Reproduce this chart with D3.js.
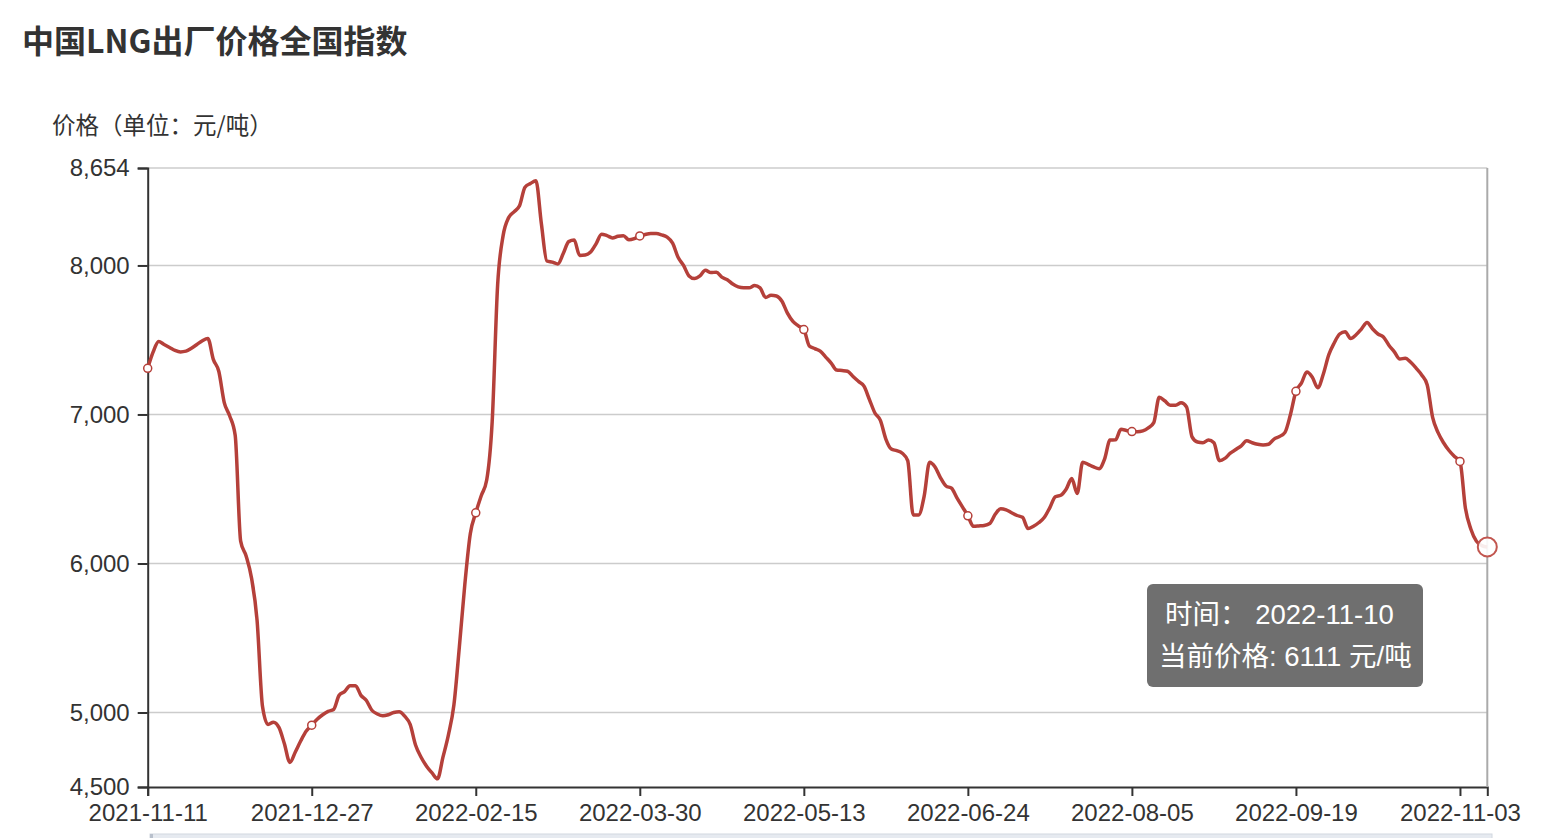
<!DOCTYPE html>
<html>
<head>
<meta charset="utf-8">
<script src="https://cdn.jsdelivr.net/npm/d3@7/dist/d3.min.js"></script>
<style>
  html, body { margin: 0; padding: 0; background: #fff; }
  svg { display: block; }
  text { font-family: "Liberation Sans", Arial, "Noto Sans CJK SC", sans-serif; }
</style>
</head>
<body>
<svg id="chart" width="1546" height="838"></svg>
<script>
// ---------------- data ----------------
const titleText = "中国LNG出厂价格全国指数";
const yAxisName = "价格（单位：元/吨）";
const xTickLabels = ["2021-11-11","2021-12-27","2022-02-15","2022-03-30","2022-05-13",
                     "2022-06-24","2022-08-05","2022-09-19","2022-11-03"];
const labelInterval = 30; // categories between two shown axis labels
const lastDate = "2022-11-10";
const unit = "元/吨";
const yTicks = [4500, 5000, 6000, 7000, 8000, 8654];
const yMin = 4500, yMax = 8654;
const prices = [
  7310, 7420, 7490, 7470, 7450, 7430, 7420, 7425, 7445, 7470,
  7495, 7510, 7370, 7290, 7080, 6990, 6860, 6150, 6050, 5900,
  5620, 5040, 4920, 4935, 4900, 4790, 4665, 4735, 4810, 4875,
  4915,
  4955, 4985, 5008, 5020, 5115, 5140, 5180, 5180, 5115, 5080,
  5015, 4990, 4978, 4985, 5000, 5005, 4975, 4920, 4780, 4700,
  4640, 4595, 4555, 4700, 4850, 5050, 5440, 5860, 6200, 6340,
  6455, 6560, 6950, 7870, 8200, 8320, 8360, 8400, 8525, 8550,
  8568, 8280, 8030, 8022, 8010, 8080, 8160, 8170, 8067, 8070,
  8090, 8145, 8210, 8200, 8185, 8196, 8200, 8172, 8180, 8198,
  8208, 8214, 8214, 8205, 8190, 8150, 8055, 8000, 7930, 7912,
  7930, 7968, 7952, 7955, 7922, 7904, 7875, 7856, 7850, 7850,
  7865, 7850, 7785, 7800, 7795, 7760, 7680, 7625, 7595, 7570,
  7460, 7442, 7425, 7385, 7345, 7298, 7295, 7290, 7255, 7222,
  7190, 7100, 7010, 6960, 6835, 6768, 6757, 6740, 6690, 6326,
  6326, 6450, 6680, 6648, 6575, 6520, 6505, 6440, 6380, 6320,
  6250, 6252, 6255, 6268, 6330, 6368, 6360, 6340, 6322, 6310,
  6235, 6250, 6275, 6310, 6375, 6448, 6458, 6500, 6570, 6470,
  6680, 6665, 6648, 6636, 6700, 6828, 6830, 6900, 6893, 6885,
  6884, 6890, 6910, 6945, 7115, 7092, 7062, 7062, 7078, 7050,
  6850, 6815, 6810, 6828, 6810, 6690, 6705, 6740, 6765, 6790,
  6823, 6810, 6800, 6795, 6800, 6835, 6852, 6880, 7000, 7155,
  7210, 7285, 7250, 7180, 7270, 7400, 7480, 7540, 7555, 7510,
  7535, 7575, 7618, 7575, 7540, 7520, 7465, 7420, 7372, 7378,
  7350, 7310, 7265, 7200, 6980, 6878, 6810, 6758, 6718, 6685,
  6370, 6230, 6150, 6120, 6111
];

// ---------------- layout ----------------
const W = 1546, H = 838;
const M = { left: 147.7, right: 1487.3, top: 168, bottom: 787 };
const lineColor = "#b5403a";
const textColor = "#333";

const svg = d3.select("#chart");

const x = d3.scaleLinear().domain([0, prices.length - 1]).range([M.left, M.right]);
const y = d3.scaleLinear().domain([yMin, yMax]).range([M.bottom, M.top]);

// title
svg.append("text").attr("x", 22).attr("y", 53)
  .attr("font-size", 32).attr("font-weight", "bold").attr("fill", "#333")
  .style("font-family", "'Noto Sans CJK SC', sans-serif")
  .text(titleText);

// y axis name
svg.append("text").attr("x", 52).attr("y", 134)
  .attr("font-size", 23.5).attr("fill", textColor)
  .style("font-family", "'Noto Sans CJK SC', sans-serif")
  .text(yAxisName);

// grid lines
svg.append("g").selectAll("line").data(yTicks.filter(v => v !== yMin)).join("line")
  .attr("x1", M.left).attr("x2", M.right)
  .attr("y1", d => y(d)).attr("y2", d => y(d))
  .attr("stroke", "#cccccc").attr("stroke-width", 1.5);

// y axis
const yAxis = d3.axisLeft(y).tickValues(yTicks).tickSize(10).tickPadding(8)
  .tickFormat(d3.format(","));
const gy = svg.append("g").attr("transform", `translate(${M.left},0)`).call(yAxis);
gy.select(".domain").attr("stroke", "#333").attr("stroke-width", 2);
gy.selectAll(".tick line").attr("stroke", "#333").attr("stroke-width", 2);
gy.selectAll(".tick text").attr("font-size", 24).attr("fill", textColor)
  .style("font-family", "'Liberation Sans', Arial, sans-serif");

// x axis
const tickIdx = xTickLabels.map((_, i) => i * labelInterval);
const xAxis = d3.axisBottom(x).tickValues(tickIdx).tickSize(9).tickPadding(8)
  .tickFormat((d, i) => xTickLabels[i]);
const gx = svg.append("g").attr("transform", `translate(0,${M.bottom})`).call(xAxis);
gx.select(".domain").attr("stroke", "#333").attr("stroke-width", 2);
gx.selectAll(".tick line").attr("stroke", "#333").attr("stroke-width", 2);
gx.selectAll(".tick text").attr("font-size", 24).attr("fill", textColor)
  .style("font-family", "'Liberation Sans', Arial, sans-serif");

// axis pointer at last point
const lastI = prices.length - 1;
svg.append("line")
  .attr("x1", x(lastI)).attr("x2", x(lastI))
  .attr("y1", M.top).attr("y2", M.bottom)
  .attr("stroke", "#aaaaaa").attr("stroke-width", 2);

// line
const line = d3.line().x((d, i) => x(i)).y(d => y(d)).curve(d3.curveMonotoneX);
svg.append("path").datum(prices)
  .attr("d", line).attr("fill", "none")
  .attr("stroke", lineColor).attr("stroke-width", 3.5)
  .attr("stroke-linejoin", "round");

// symbols at label positions
svg.append("g").selectAll("circle").data(tickIdx).join("circle")
  .attr("cx", d => x(d)).attr("cy", d => y(prices[d])).attr("r", 4)
  .attr("fill", "#fff").attr("stroke", lineColor).attr("stroke-width", 1.5);

// emphasized last point
svg.append("circle")
  .attr("cx", x(lastI)).attr("cy", y(prices[lastI])).attr("r", 9.5)
  .attr("fill", "#fff").attr("fill-opacity", 0.9)
  .attr("stroke", "#c2564f").attr("stroke-width", 2);

// tooltip
const tip = svg.append("g");
tip.append("rect").attr("x", 1147).attr("y", 584).attr("width", 276).attr("height", 103)
  .attr("rx", 6).attr("fill", "rgba(50,50,50,0.7)");
tip.append("text").attr("x", 1165).attr("y", 624)
  .attr("font-size", 27.5).attr("fill", "#fff").style("white-space", "pre")
  .text("时间： " + lastDate);
tip.append("text").attr("x", 1159).attr("y", 666)
  .attr("font-size", 27.5).attr("fill", "#fff").style("white-space", "pre")
  .text("当前价格: " + prices[lastI] + " " + unit);

// data-zoom bar at bottom edge
svg.append("rect").attr("x", 150).attr("y", 834).attr("width", 1342).attr("height", 12)
  .attr("fill", "#e6eaf0").attr("stroke", "#d2d8e0").attr("stroke-width", 1);
svg.append("rect").attr("x", 150).attr("y", 834).attr("width", 3).attr("height", 12)
  .attr("fill", "#b8c0cc");
</script>
</body>
</html>
